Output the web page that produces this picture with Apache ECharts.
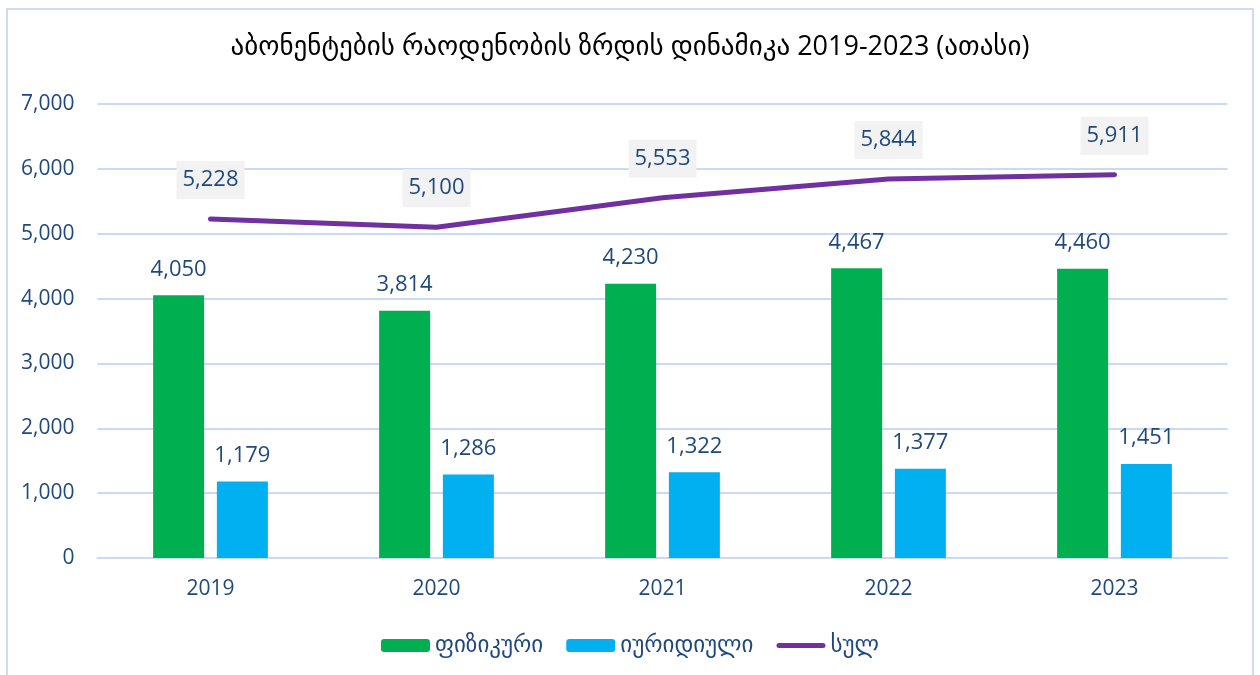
<!DOCTYPE html>
<html>
<head>
<meta charset="utf-8">
<script src="https://cdn.jsdelivr.net/npm/echarts@6/dist/echarts.min.js"></script>
<style>
  html, body { margin: 0; padding: 0; background: #fff; }
  #wrap { position: relative; width: 1260px; height: 675px; overflow: hidden; }
  #frame { position: absolute; left: 6px; top: 8px; width: 1248px; height: 680px; border: 2px solid #cddcf0; box-sizing: border-box; }
  #chart { position: absolute; left: 0; top: 0; width: 1260px; height: 675px; }
</style>
</head>
<body>
<div id="wrap">
  <div id="frame"></div>
  <div id="chart"></div>
</div>
<script>
// data (thousands)
const years = ['2019', '2020', '2021', '2022', '2023'];
const physical = [4050, 3814, 4230, 4467, 4460];
const legal = [1179, 1286, 1322, 1377, 1451];
const total = [5228, 5100, 5553, 5844, 5911];
const seriesNames = ['ფიზიკური', 'იურიდიული', 'სულ'];

const textColor = '#1f497d';
const font = "'Open Sans', 'DejaVu Sans', sans-serif";
const fmt = v => v.toLocaleString('en-US');

const myChart = echarts.init(document.getElementById('chart'), null);
myChart.setOption({
  animation: false,
  textStyle: { fontFamily: font, color: textColor },
  title: {
    text: 'აბონენტების რაოდენობის ზრდის დინამიკა 2019-2023 (ათასი)',
    left: 'center',
    top: 29,
    textStyle: { fontSize: 27, fontWeight: 'normal', color: '#000', fontFamily: font }
  },
  legend: {
    bottom: 13,
    left: 'center',
    itemWidth: 49,
    itemHeight: 13,
    itemGap: 23,
    textStyle: { fontSize: 23, color: textColor, fontFamily: font },
    data: [
      { name: seriesNames[0] },
      { name: seriesNames[1] },
      { name: seriesNames[2], icon: 'path://M2.5,0 L46.5,0 A2.5,2.5 0 0 1 46.5,5 L2.5,5 A2.5,2.5 0 0 1 2.5,0 Z' }
    ]
  },
  grid: { left: 97.5, right: 32.5, top: 104, bottom: 117 },
  xAxis: {
    type: 'category',
    data: years,
    axisTick: { show: false },
    axisLine: { lineStyle: { color: '#c9daf2', width: 2 } },
    axisLabel: { fontSize: 21, color: textColor, margin: 21 }
  },
  yAxis: {
    type: 'value',
    min: 0,
    max: 7000,
    interval: 1000,
    axisLine: { show: false },
    axisTick: { show: false },
    splitLine: { lineStyle: { color: '#c9daf2', width: 2 } },
    axisLabel: { fontSize: 21, color: textColor, margin: 23, formatter: v => fmt(v) }
  },
  series: [
    {
      name: seriesNames[0],
      type: 'bar',
      data: physical,
      barWidth: 51,
      barGap: '25%',
      itemStyle: { color: '#00b050' },
      label: { show: true, position: 'top', distance: 15, fontSize: 22, color: textColor, formatter: p => fmt(p.value) }
    },
    {
      name: seriesNames[1],
      type: 'bar',
      data: legal,
      barWidth: 51,
      itemStyle: { color: '#00b0f0' },
      label: { show: true, position: 'top', distance: 15, fontSize: 22, color: textColor, formatter: p => fmt(p.value) }
    },
    {
      name: seriesNames[2],
      type: 'line',
      data: total,
      symbol: 'circle',
      symbolSize: 2,
      lineStyle: { color: '#7030a0', width: 5, cap: 'round' },
      itemStyle: { color: '#7030a0' },
      label: {
        show: true,
        position: 'top',
        distance: 19,
        fontSize: 22,
        color: textColor,
        backgroundColor: '#f2f2f2',
        padding: [8, 6],
        formatter: p => fmt(p.value)
      }
    }
  ]
});
</script>
</body>
</html>
